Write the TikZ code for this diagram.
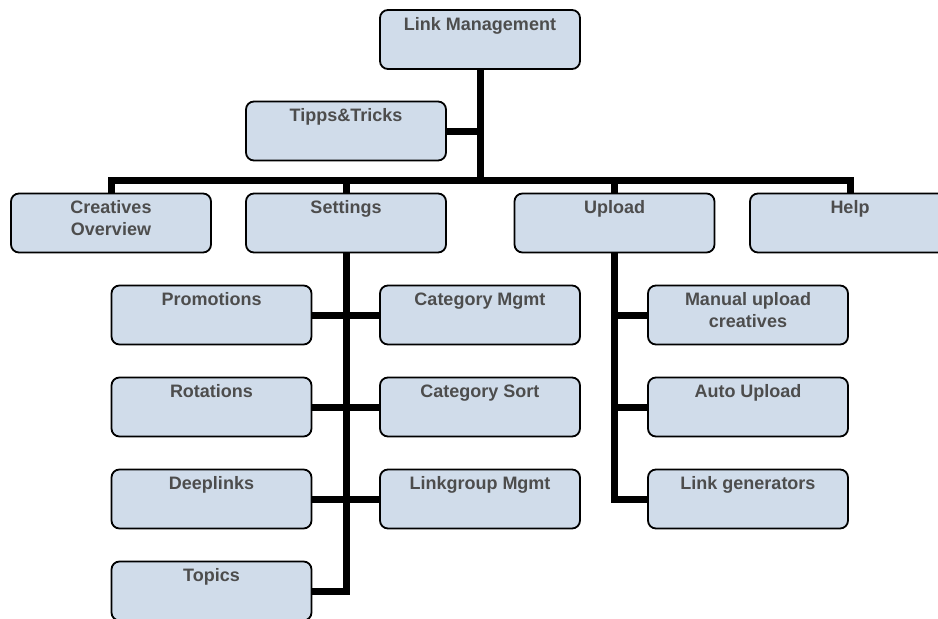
\documentclass[tikz,border=0pt]{standalone}
\usepackage{fontspec}
\setmainfont{Liberation Sans}
\usetikzlibrary{backgrounds}
\begin{document}
\begin{tikzpicture}[x=1pt,y=-1pt,
  box/.style={draw=black, line width=1.8pt, fill=boxfill, rounded corners=8pt,
    minimum width=200pt, minimum height=59pt, inner sep=0pt},
  lbl/.style={anchor=north, inner sep=0pt, align=center, text=txtgray,
    font=\fontsize{18}{22}\selectfont\bfseries},
  conn/.style={draw=black, line width=7pt, line join=miter}]
\definecolor{boxfill}{RGB}{208,220,234}
\definecolor{txtgray}{RGB}{77,77,77}
\path[use as bounding box] (0,0) rectangle (938,619);
\clip (0,0) rectangle (938,619);

% boxes
\coordinate (bus) at (480,180);
\node[box] (lm)  at (480,39.5) {};
\node[box] (tt)  at (346,131) {};
\node[box] (cre) at (111,223) {};
\node[box] (set) at (346,223) {};
\node[box] (up)  at (614.5,223) {};
\node[box] (hlp) at (850,223) {};
\node[box] (pro) at (211.5,315) {};
\node[box] (cm)  at (480,315) {};
\node[box] (rot) at (211.5,407) {};
\node[box] (cs)  at (480,407) {};
\node[box] (dee) at (211.5,499) {};
\node[box] (lg)  at (480,499) {};
\node[box] (top) at (211.5,591) {};
\node[box] (mu)  at (748,315) {};
\node[box] (au)  at (748,407) {};
\node[box] (lgen) at (748,499) {};

% connectors, behind the boxes
\begin{scope}[on background layer]
\draw[conn] (lm.south) -- (bus);
\draw[conn] (tt.east) -- (tt.east -| bus);
\draw[conn] (cre.north) |- (bus) -| (hlp.north);
\draw[conn] (set.north) -- (set.north |- bus);
\draw[conn] (up.north) -- (up.north |- bus);
\draw[conn] (set.south) |- (top.east);
\draw[conn] (pro.east) -- (cm.west);
\draw[conn] (rot.east) -- (cs.west);
\draw[conn] (dee.east) -- (lg.west);
\draw[conn] (up.south) |- (lgen.west);
\draw[conn] (mu.west) -- (mu.west -| up.south);
\draw[conn] (au.west) -- (au.west -| up.south);
\end{scope}

% labels
\node[lbl] (lmt)  at ([yshift=-8pt]lm.north)  {Link Management};
\node[lbl] (ttt)  at ([yshift=-8pt]tt.north)  {Tipps\&Tricks};
\node[lbl] (cret) at ([yshift=-8pt]cre.north) {Creatives\\Overview};
\node[lbl] (sett) at ([yshift=-8pt]set.north) {Settings};
\node[lbl] (upt)  at ([yshift=-8pt]up.north)  {Upload};
\node[lbl] (hlpt) at ([yshift=-8pt]hlp.north) {Help};
\node[lbl] (prot) at ([yshift=-8pt]pro.north) {Promotions};
\node[lbl] (cmt)  at ([yshift=-8pt]cm.north)  {Category Mgmt};
\node[lbl] (rott) at ([yshift=-8pt]rot.north) {Rotations};
\node[lbl] (cst)  at ([yshift=-8pt]cs.north)  {Category Sort};
\node[lbl] (deet) at ([yshift=-8pt]dee.north) {Deeplinks};
\node[lbl] (lgt)  at ([yshift=-8pt]lg.north)  {Linkgroup Mgmt};
\node[lbl] (topt) at ([yshift=-8pt]top.north) {Topics};
\node[lbl] (mut)  at ([yshift=-8pt]mu.north)  {Manual upload\\creatives};
\node[lbl] (aut)  at ([yshift=-8pt]au.north)  {Auto Upload};
\node[lbl] (lgent) at ([yshift=-8pt]lgen.north) {Link generators};
\end{tikzpicture}
\end{document}
